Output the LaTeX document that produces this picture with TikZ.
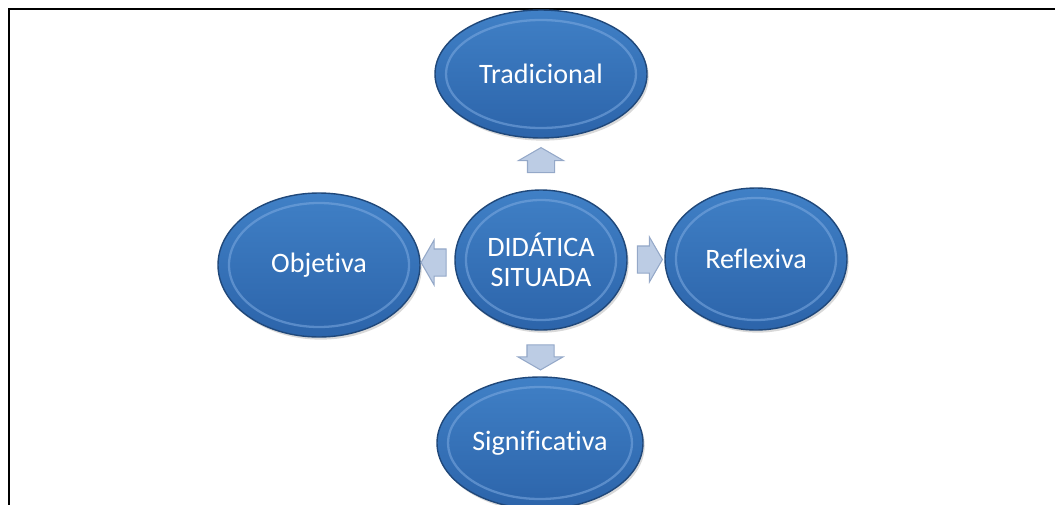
\documentclass[tikz,border=0pt]{standalone}
\usepackage{fontspec}
\setmainfont{Carlito}[Ligatures=NoCommon]
\usetikzlibrary{shapes.geometric,shapes.arrows,calc,shadows}

\definecolor{bubbletop}{RGB}{64,128,198}
\definecolor{bubblebottom}{RGB}{44,100,170}
\definecolor{bubbleedge}{RGB}{32,72,122}
\definecolor{bubblering}{RGB}{125,170,225}
\definecolor{arrowfill}{RGB}{188,204,228}
\definecolor{arrowedge}{RGB}{148,168,200}

\begin{document}
\begin{tikzpicture}[x=0.02cm,y=-0.02cm,
   bubble/.style={ellipse, inner sep=0pt, top color=bubbletop, bottom color=bubblebottom,
      draw=bubbleedge, line width=0.8pt, text=white, align=center,
      font=\fontsize{16}{17.2}\selectfont,
      drop shadow={opacity=0.3, shadow xshift=1pt, shadow yshift=-1.5pt}},
   bevel/.style={draw=bubblering, line width=1.3pt, opacity=0.55},
   blockarrow/.style={single arrow, draw=arrowedge, fill=arrowfill, line width=0.6pt,
      single arrow head extend=0.18cm, minimum height=0.5cm, single arrow tip angle=120},
   harrow/.style={blockarrow, inner xsep=0pt, inner ysep=0.26cm, shape border rotate=#1},
   varrow/.style={blockarrow, inner ysep=0pt, inner xsep=0.26cm, shape border rotate=#1}]
   \useasboundingbox (0,0) rectangle (1055,504);
   \clip (0,0) rectangle (1055,504);
   % frame, cut by the page at right and bottom
   \draw[line width=1.2pt] (9,9) rectangle (1075,525);
   \foreach \nm/\px/\py/\rx/\ry/\txt in {
      tradicional/541/74/106/64/Tradicional,
      didatica/541/260/86/70/{DIDÁTICA\\SITUADA},
      objetiva/319/265/101/72/Objetiva,
      reflexiva/756/259/91/71/Reflexiva,
      significativa/540/443/103/66/Significativa} {
      \node[bubble, minimum width={2*\rx*0.02cm}, minimum height={2*\ry*0.02cm}] (\nm) at (\px,\py) {\txt};
      \draw[bevel] (\nm.center) ellipse [x radius=\rx-11, y radius=\ry-10];
   }
   \node[varrow=90] (aup) at ($(didatica.north)!0.5!(tradicional.south)$) {};
   \node[varrow=270] (adown) at ($(didatica.south)!0.5!(significativa.north)$) {};
   \node[harrow=180] (aleft) at ($(didatica.west)!0.5!(objetiva.east)$) {};
   \node[harrow=0] (aright) at ($(didatica.east)!0.5!(reflexiva.west)$) {};
\end{tikzpicture}
\end{document}
